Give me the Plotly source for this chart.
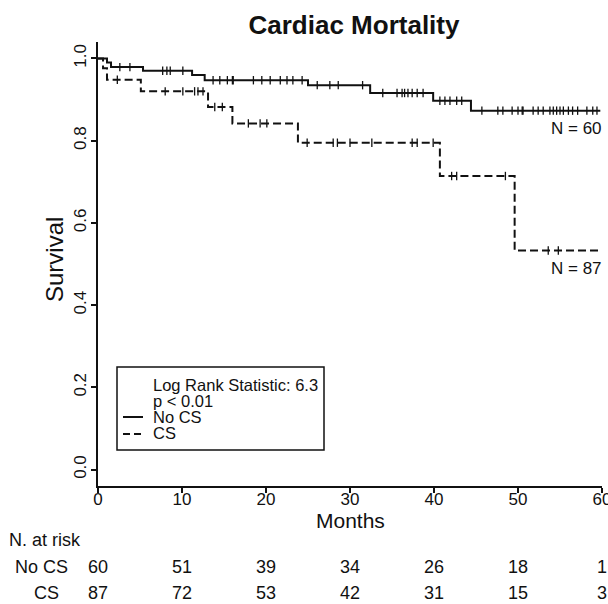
import numpy as np
import plotly.graph_objects as go

# ---- data ----
months_ticks = [0, 10, 20, 30, 40, 50, 60]
surv_ticks = [0.0, 0.2, 0.4, 0.6, 0.8, 1.0]

# No CS (solid) Kaplan-Meier steps
nocs_times = [0, 1.07, 1.55, 5.36, 11.2, 12.7, 25.0, 32.4, 39.9, 44.4, 59.8]
nocs_surv = [1.0, 0.990, 0.979, 0.970, 0.960, 0.947, 0.935, 0.916, 0.897, 0.873, 0.873]
nocs_censor = [2.6, 3.8, 7.7, 8.2, 8.6, 10.1,
               13.7, 14.5, 15.4, 16.0, 16.1, 18.5, 19.5, 20.5, 21.7, 22.5, 23.2, 24.3,
               26.1, 27.6, 28.6, 31.5,
               33.9, 35.6, 36.2, 36.5, 36.9, 37.4, 38.0, 38.7,
               40.7, 41.3, 41.9, 42.7, 43.3,
               45.7, 47.6, 48.2, 49.3, 50.0, 50.5, 50.6, 51.8, 52.4, 53.0, 53.8, 54.2,
               54.6, 55.0, 55.4, 56.0, 56.5, 57.1, 58.2, 58.9, 59.4]

# CS (dashed) Kaplan-Meier steps
cs_times = [0, 0.6, 1.07, 5.1, 13.1, 16.0, 23.8, 40.7, 49.6, 59.8]
cs_surv = [1.0, 0.976, 0.948, 0.920, 0.882, 0.842, 0.795, 0.714, 0.533, 0.533]
cs_censor = [2.3, 8.0, 10.1, 11.5, 11.9, 12.5, 13.9, 14.8, 17.9, 19.3, 20.1,
             24.9, 28.0, 28.5, 30.0, 32.6, 37.4, 38.0, 39.9, 42.1, 42.7, 48.5, 53.6, 54.8]

# numbers at risk
risk_times = [0, 10, 20, 30, 40, 50, 60]
risk_nocs = [60, 51, 39, 34, 26, 18, 1]
risk_cs = [87, 72, 53, 42, 31, 15, 3]

n_nocs = 60
n_cs = 87
log_rank = 6.3

INK = "#111111"
FONT = "Liberation Sans, Arial, Helvetica, sans-serif"


def step_value(times, surv, t):
    idx = np.searchsorted(np.array(times), np.array(t), side="right") - 1
    return np.array(surv)[idx]


fig = go.Figure()

fig.add_trace(go.Scatter(x=nocs_times, y=nocs_surv, mode="lines", line_shape="hv",
                         line=dict(color=INK, width=2), name="No CS", hoverinfo="skip"))
fig.add_trace(go.Scatter(x=cs_times, y=cs_surv, mode="lines", line_shape="hv",
                         line=dict(color=INK, width=2, dash="8px,4px"), name="CS",
                         hoverinfo="skip"))
for ct, tt, ss in [(nocs_censor, nocs_times, nocs_surv), (cs_censor, cs_times, cs_surv)]:
    fig.add_trace(go.Scatter(x=ct, y=step_value(tt, ss, ct), mode="markers",
                             marker=dict(symbol="line-ns-open", size=6, color=INK,
                                         line=dict(color=INK, width=1.3)),
                             hoverinfo="skip"))

L, R, T, B = 98, 6, 42, 118
W, H = 608, 604
pw, ph = W - L - R, H - T - B


def px(xp):
    return (xp - L) / pw


def py(yp):
    return (H - B - yp) / ph


ann = []
# axis titles
ann.append(dict(x=px(350), y=py(520), xref="paper", yref="paper", text="Months",
                showarrow=False, xanchor="center", yanchor="middle", font=dict(size=21)))
ann.append(dict(x=px(54), y=py(260), xref="paper", yref="paper", text="Survival",
                textangle=-90, showarrow=False, xanchor="center", yanchor="middle",
                font=dict(size=24)))
# N labels
ann.append(dict(x=px(604), y=py(128), xref="paper", yref="paper", text=f"N = {n_nocs}",
                showarrow=False, xanchor="right", yanchor="middle", font=dict(size=17)))
ann.append(dict(x=px(604), y=py(268), xref="paper", yref="paper", text=f"N = {n_cs}",
                showarrow=False, xanchor="right", yanchor="middle", font=dict(size=17)))
# legend text
for txt, yy in [(f"Log Rank Statistic: {log_rank}", 385), ("p &lt; 0.01", 401),
                ("No CS", 417), ("CS", 433)]:
    ann.append(dict(x=px(151), y=py(yy), xref="paper", yref="paper", text=txt,
                    showarrow=False, xanchor="left", yanchor="middle", font=dict(size=16.5)))
# at-risk table
ann.append(dict(x=px(7), y=py(540), xref="paper", yref="paper", text="N. at risk",
                showarrow=False, xanchor="left", yanchor="middle", font=dict(size=18)))
ann.append(dict(x=px(41), y=py(567), xref="paper", yref="paper", text="No CS",
                showarrow=False, xanchor="center", yanchor="middle", font=dict(size=18)))
ann.append(dict(x=px(46), y=py(593), xref="paper", yref="paper", text="CS",
                showarrow=False, xanchor="center", yanchor="middle", font=dict(size=18)))
for t, a, b in zip(risk_times, risk_nocs, risk_cs):
    ann.append(dict(x=t, y=py(567), xref="x", yref="paper", text=str(a), showarrow=False,
                    xanchor="center", yanchor="middle", font=dict(size=18)))
    ann.append(dict(x=t, y=py(593), xref="x", yref="paper", text=str(b), showarrow=False,
                    xanchor="center", yanchor="middle", font=dict(size=18)))

shapes = [
    dict(type="rect", xref="paper", yref="paper", x0=px(117), x1=px(324), y0=py(450),
         y1=py(367), line=dict(color=INK, width=1.5), fillcolor="rgba(0,0,0,0)"),
    dict(type="line", xref="paper", yref="paper", x0=px(123), x1=px(143), y0=py(417),
         y1=py(417), line=dict(color=INK, width=2)),
    dict(type="line", xref="paper", yref="paper", x0=px(123), x1=px(143), y0=py(434),
         y1=py(434), line=dict(color=INK, width=2, dash="7px,4px")),
]

fig.update_layout(
    width=W, height=H,
    margin=dict(l=L, r=R, t=T, b=B, pad=0, autoexpand=False),
    plot_bgcolor="white", paper_bgcolor="white",
    showlegend=False,
    font=dict(family=FONT, color=INK, size=17),
    title=dict(text="<b>Cardiac Mortality</b>", x=354 / W, xanchor="center",
               y=1 - 25 / H, yanchor="middle", font=dict(size=26, color=INK)),
    annotations=ann,
    shapes=shapes,
    xaxis=dict(range=[0, 60], tickvals=months_ticks, ticks="outside", ticklen=5,
               tickwidth=1.5, tickcolor=INK, showline=True, linewidth=1.5, linecolor=INK,
               showgrid=False, zeroline=False, tickfont=dict(size=17), automargin=False,
               ticklabelstandoff=-8, ticklabeloverflow="allow"),
    yaxis=dict(range=[-0.04, 1.04], tickvals=surv_ticks, tickformat=".1f", tickangle=-90,
               ticks="outside", ticklen=5, tickwidth=1.5, tickcolor=INK, showline=True,
               linewidth=1.5, linecolor=INK, showgrid=False, zeroline=False,
               automargin=False, tickfont=dict(size=17), ticklabelstandoff=-2),
)

fig.write_html("out.html", config={"displayModeBar": False},
               post_script="document.body.style.margin='0';document.body.style.padding='0';")
